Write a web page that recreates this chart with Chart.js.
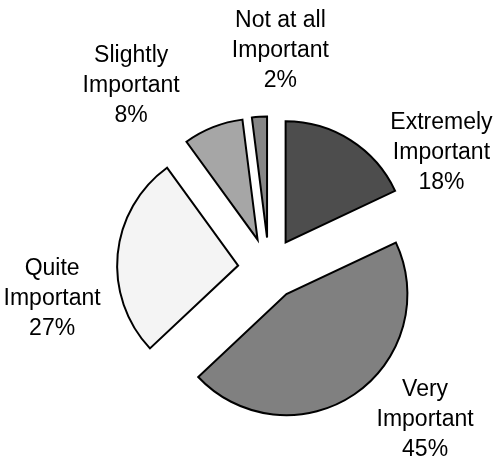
<!DOCTYPE html>
<html>
<head>
<meta charset="utf-8">
<script src="https://cdn.jsdelivr.net/npm/chart.js@4/dist/chart.umd.min.js"></script>
<style>
  html, body { margin: 0; padding: 0; background: #fff; }
  #wrap { width: 497px; height: 462px; }
</style>
</head>
<body>
<div id="wrap"><canvas id="pie-chart"></canvas></div>
<script>
const categories = [["Extremely", "Important"], ["Very", "Important"], ["Quite", "Important"], ["Slightly", "Important"], ["Not at all", "Important"]];
const shares = [18, 45, 27, 8, 2];
const sliceColors = ["#4d4d4d", "#808080", "#f4f4f4", "#a6a6a6", "#868686"];

// push every slice out from the centre along its middle angle
const explodePlugin = {
  id: 'explode',
  beforeDatasetsDraw(chart, args, opts) {
    chart.getDatasetMeta(0).data.forEach(arc => {
      const mid = (arc.startAngle + arc.endAngle) / 2;
      arc._home = [arc.x, arc.y];
      arc.x += Math.cos(mid) * opts.distance;
      arc.y += Math.sin(mid) * opts.distance;
    });
  },
  afterDatasetsDraw(chart) {
    chart.getDatasetMeta(0).data.forEach(arc => {
      [arc.x, arc.y] = arc._home;
    });
  }
};

// three-line labels: name, name, percent
const labelPlugin = {
  id: 'sliceLabels',
  afterDraw(chart, args, opts) {
    const ctx = chart.ctx;
    ctx.save();
    ctx.font = opts.font;
    ctx.fillStyle = '#000';
    ctx.textAlign = 'center';
    ctx.textBaseline = 'middle';
    chart.getDatasetMeta(0).data.forEach((arc, i) => {
      const [deg, dist] = opts.place[i];
      const a = deg * Math.PI / 180;
      const x = arc.x + Math.sin(a) * dist;
      const y = arc.y - Math.cos(a) * dist;
      const lines = [...categories[i], shares[i] + '%'];
      lines.forEach((t, j) => ctx.fillText(t, x, y + (j - 1) * opts.lineHeight));
    });
    ctx.restore();
  }
};

new Chart(document.getElementById("pie-chart"), {
  type: 'pie',
  data: {
    labels: categories.map(c => c.join(' ')),
    datasets: [{
      data: shares,
      backgroundColor: sliceColors,
      borderColor: "#000",
      borderWidth: 2,
      borderJoinStyle: 'miter'
    }]
  },
  options: {
    responsive: true,
    maintainAspectRatio: false,
    animation: false,
    events: [],
    radius: 121,
    layout: { padding: { left: 41, top: 75, right: 0, bottom: 0 } },
    plugins: {
      legend: { display: false },
      tooltip: { enabled: false },
      explode: { distance: 31 },
      sliceLabels: {
        font: '23px "Liberation Sans", Arial, sans-serif',
        lineHeight: 30,
        place: [[56, 208], [134, 217], [262, 219], [323, 229], [3, 218]]
      }
    }
  },
  plugins: [explodePlugin, labelPlugin]
});
</script>
</body>
</html>
